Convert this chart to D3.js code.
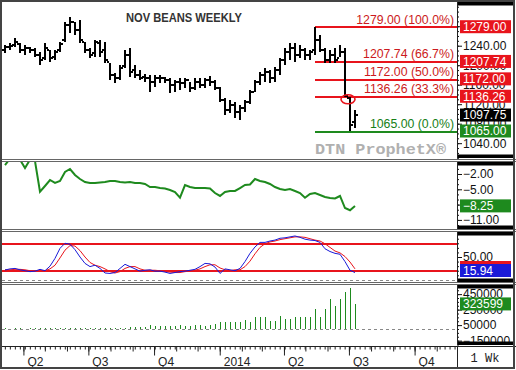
<!DOCTYPE html>
<html>
<head>
<meta charset="utf-8">
<script src="https://d3js.org/d3.v7.min.js"></script>
<style>
body { margin: 0; background: #fff; }
svg { display: block; font-family: Arial, "Liberation Sans", sans-serif; }
</style>
</head>
<body>
<svg id="chart" width="516" height="370"></svg>
<script>
// Nov soybeans, weekly bars (price, oscillator, stochastics, volume)
var firstWeek = new Date(2013, 2, 6);

var openP = [1231.25,1237.25,1241.5,1243.5,1231.25,1235.25,1231.25,1221,1214.75,1231.25,1216.75,1231.25,1251.75,1282.5,1288.5,1272.25,1247.5,1231.25,1225,1245.5,
  1231.25,1206.5,1180,1173.75,1198.5,1221,1190.25,1180,1175.75,1173.75,1165.5,1173.75,1173.75,1169.5,1159.5,1165.5,1163.5,1169.5,1153.25,1165.5,
  1159.5,1169.5,1165.5,1153.25,1128.5,1108,1118.25,1104,1112.25,1124.5,1145,1165.5,1180,1186,1173.75,1190.25,1210.75,1227,1235.25,1221,
  1231.25,1221,1231.25,1251.75,1231.25,1210.75,1221,1214.75,1227,1132.75,1083.5];
var highP = [1241.5,1245.5,1255.75,1245.5,1241.5,1237.25,1235.25,1227,1245.5,1231.25,1231.25,1247.5,1288.5,1299,1288.5,1292.75,1247.5,1235.25,1251.75,1251.75,
  1247.5,1204.5,1184,1200.5,1231.25,1235.25,1200.5,1190.25,1182,1180,1180,1180,1175.75,1173.75,1169.5,1173.75,1173.75,1165.5,1173.75,1173.75,
  1173.75,1177.75,1169.5,1155.25,1132.75,1128.5,1124.5,1118.25,1128.5,1149,1169.5,1186,1194.25,1190.25,1196.25,1214.75,1235.25,1245.5,1245.5,1241.5,
  1235.25,1231.25,1279,1262,1235.25,1231.25,1235.25,1241.5,1235.25,1134.75,1108];
var lowP = [1225,1231.25,1237.25,1225,1221,1225,1216.75,1200.5,1210.75,1206.5,1210.75,1227,1247.5,1266,1262,1245.5,1225,1214.75,1216.75,1216.75,
  1204.5,1169.5,1163.5,1169.5,1194.25,1175.75,1173.75,1169.5,1165.5,1145,1155.25,1163.5,1163.5,1143,1145,1149,1153.25,1145,1149,1153.25,
  1153.25,1157.25,1149,1124.5,1097.75,1102,1091.75,1087.5,1104,1120.5,1145,1159.5,1165.5,1163.5,1165.5,1180,1200.5,1210.75,1206.5,1214.75,
  1210.75,1210.75,1221,1227,1204.5,1204.5,1204.5,1216.75,1134.75,1065,1071.25];
var closeP = [1237.25,1239.5,1247.5,1231.25,1235.25,1231.25,1221,1210.75,1235.25,1214.75,1227,1243.5,1282.5,1288.5,1272.25,1251.75,1231.25,1221,1247.5,1227,
  1210.75,1180,1173.75,1194.25,1221,1186,1180,1173.75,1173.75,1165.5,1173.75,1173.75,1169.5,1159.5,1165.5,1163.5,1169.5,1153.25,1165.5,1159.5,
  1169.5,1165.5,1153.25,1128.5,1108,1118.25,1104,1112.25,1124.5,1145,1165.5,1180,1186,1173.75,1190.25,1210.75,1227,1235.25,1221,1231.25,
  1221,1227,1251.75,1231.25,1210.75,1221,1210.75,1227,1136.75,1077.25,1097.75];

var oscVals = [-0.24,1.0,1.5,0.8,-0.82,0.8,0.5,-5.47,-4.35,-3.18,-3.76,-3.37,-1.6,-1.02,-2.2,-2.98,-3.57,-3.76,-3.76,-3.67,
  -3.57,-3.37,-3.37,-3.57,-3.67,-3.57,-3.76,-3.76,-3.96,-4.55,-4.55,-4.75,-4.84,-5.14,-5.53,-6.65,-4.16,-4.55,-4.75,-4.75,
  -4.75,-4.84,-5.73,-6.31,-5.53,-5.33,-5.33,-4.75,-4.16,-4.06,-2.98,-3.37,-3.57,-3.96,-4.55,-4.94,-5.14,-4.94,-5.33,-5.73,
  -6.65,-5.92,-5.73,-6.12,-6.51,-6.71,-6.8,-6.31,-8.67,-9.1,-8.25];

var stochK = [21.6,24,25,22,20,18,19,23,20,30,47,69,80,78,66,50,36,29,32,25,
  15,14,16,25,34,29,24,19,21,22,19,19,17,14,16,18,19,21,23,29,
  36,35,28,14,24,22,20,25,40,58,72,82,82,85,87,91,92,94,96,93,
  89,87,86,82,68,62,58,56,40,21,15.94];
var stochD = [22,22,23,23,22,20,19,20,20,24,32,48,65,75,74,64,50,38,32,29,
  24,18,15,18,25,29,29,24,21,21,21,20,18,17,16,16,18,19,21,24,
  29,33,33,26,22,20,22,22,29,41,57,71,79,83,85,88,90,92,94,94,
  93,90,87,85,79,71,63,59,51,39,24];

var volume = [8000,6000,9000,7000,5000,8000,10000,7000,9000,11000,8000,12000,10000,9000,13000,11000,10000,14000,12000,15000,
  13000,16000,14000,18000,15000,20000,22000,25000,30000,50000,35000,40000,38000,45000,42000,48000,40000,35000,52000,50000,
  45000,55000,62000,95000,95000,95000,95000,95000,116000,95000,150000,150000,150000,108000,108000,168000,125000,125000,159000,159000,
  159000,159000,254000,159000,254000,385000,297000,385000,480000,525000,323599];

var fibLevels = [1279.00, 1207.74, 1172.00, 1136.26, 1065.00];
var fibPct = ["100.0%", "66.7%", "50.0%", "33.3%", "0.0%"];
var fibStart = 62;   // bar where the swing high sits
var stochBands = [80, 20];

var priceTicks = [1040, 1080, 1120, 1160, 1200, 1240, 1280];
var oscTicks = [-2, -5, -8, -11];
var stochTicks = [50];
var volTicks = [450000, 250000, 50000, -150000];

var weeks = openP.map(function (d, i) { return d3.timeDay.offset(firstWeek, 7 * i); });

var RED = "#e8141c", GREEN = "#1e8a1e", BLUE = "#1a1ad8";
var plotL = 2, plotR = 457, stripR = 514;
var panels = [
  {name: "price", top: 2, bottom: 158},
  {name: "osc", top: 162, bottom: 229},
  {name: "stoch", top: 232, bottom: 282},
  {name: "vol", top: 285, bottom: 345}
];

var svg = d3.select("#chart");

var x = d3.scaleTime()
  .domain([new Date(2013, 2, 2), new Date(2014, 10, 28)])
  .range([plotL, 456]);

var yPrice = d3.scaleLinear().domain([1009.6, 1329.7]).range([158, 2]);
var yOsc = d3.scaleLinear().domain([-12.78, 0.35]).range([229, 162]);
var yStoch = d3.scaleLinear().domain([-4.7, 104.7]).range([282, 232]);
var yVol = d3.scaleLinear().domain([-206452, 567742]).range([345, 285]);

// clip paths
var defs = svg.append("defs");
panels.forEach(function (p) {
  defs.append("clipPath").attr("id", "clip-" + p.name)
    .append("rect").attr("x", plotL).attr("y", p.top)
    .attr("width", plotR - plotL).attr("height", p.bottom - p.top);
});

function bx(i) { return Math.round(x(weeks[i])); }

// horizontal rule drawn as a rect so it stays sharp
function hRule(g, x1, x2, y, color, h) {
  h = h || 1;
  return g.append("rect").attr("x", x1).attr("y", Math.round(y - h / 2 + 0.5)).attr("width", x2 - x1).attr("height", h)
    .attr("fill", color).attr("shape-rendering", "crispEdges");
}

// ---------- price panel ----------
var gp = svg.append("g").attr("clip-path", "url(#clip-price)");

gp.append("text").attr("x", 126).attr("y", 21.5)
  .attr("font-size", 12).attr("font-weight", "bold").attr("fill", "#333")
  .attr("textLength", 116).attr("lengthAdjust", "spacingAndGlyphs")
  .text("NOV BEANS WEEKLY");

gp.append("text").attr("x", 315).attr("y", 154)
  .attr("font-family", "'Liberation Mono', 'DejaVu Sans Mono', monospace")
  .attr("font-size", 15).attr("font-weight", "bold").attr("fill", "#b0b0b0")
  .attr("textLength", 131).attr("lengthAdjust", "spacingAndGlyphs")
  .text("DTN ProphetX\u00AE");

// fibonacci retracement lines
var fx0 = bx(fibStart);
fibLevels.forEach(function (d, i) {
  hRule(gp, fx0, plotR, yPrice(d), i === fibLevels.length - 1 ? GREEN : RED, 1.5);
});

gp.selectAll(".fibtxt").data(fibLevels).enter().append("text")
  .attr("x", 454)
  .attr("y", function (d) { return Math.round(yPrice(d)) - 3; })
  .attr("text-anchor", "end").attr("font-size", 12.3)
  .attr("fill", function (d, i) { return i === fibLevels.length - 1 ? "#168016" : "#cc1a20"; })
  .text(function (d, i) { return d.toFixed(2) + " (" + fibPct[i] + ")"; });

// OHLC bars
var bars = gp.selectAll(".bar").data(weeks).enter().append("g")
  .attr("shape-rendering", "crispEdges").attr("fill", "#000");
bars.append("rect")
  .attr("x", function (d, i) { return bx(i) - 1; })
  .attr("y", function (d, i) { return Math.round(yPrice(highP[i])); })
  .attr("width", 2)
  .attr("height", function (d, i) { return Math.max(2, Math.round(yPrice(lowP[i])) - Math.round(yPrice(highP[i]))); });
bars.append("rect")
  .attr("x", function (d, i) { return bx(i) - 3; })
  .attr("y", function (d, i) { return Math.round(yPrice(openP[i])) - 1; })
  .attr("width", 2).attr("height", 2);
bars.append("rect")
  .attr("x", function (d, i) { return bx(i) + 1; })
  .attr("y", function (d, i) { return Math.round(yPrice(closeP[i])) - 1; })
  .attr("width", 2).attr("height", 2);

// highlight of the gap after the break
gp.append("ellipse")
  .attr("cx", (bx(68) + bx(69)) / 2 + 0.5).attr("cy", yPrice(1130))
  .attr("rx", 7).attr("ry", 4.5)
  .attr("fill", "none").attr("stroke", RED).attr("stroke-width", 1.6);

// ---------- oscillator panel ----------
var go = svg.append("g").attr("clip-path", "url(#clip-osc)");
go.append("path").datum(oscVals)
  .attr("fill", "none").attr("stroke", GREEN).attr("stroke-width", 2)
  .attr("d", d3.line().x(function (d, i) { return bx(i); }).y(function (d) { return yOsc(d); }));

// ---------- stochastics panel ----------
var gs = svg.append("g").attr("clip-path", "url(#clip-stoch)");
stochBands.forEach(function (v) { hRule(gs, plotL, plotR, yStoch(v), RED, 1.5); });
gs.append("line").attr("x1", plotL).attr("x2", plotR)
  .attr("y1", Math.round(yStoch(0)) + 0.5).attr("y2", Math.round(yStoch(0)) + 0.5)
  .style("stroke", "#888").attr("stroke-dasharray", "3,3");
var sLine = d3.line().x(function (d, i) { return bx(i); }).y(function (d) { return yStoch(d); });
gs.append("path").datum(stochD).attr("fill", "none").style("stroke", RED).attr("stroke-width", 1).attr("d", sLine);
gs.append("path").datum(stochK).attr("fill", "none").style("stroke", BLUE).attr("stroke-width", 1).attr("d", sLine);

// ---------- volume panel ----------
var gv = svg.append("g").attr("clip-path", "url(#clip-vol)");
gv.append("line").attr("x1", plotL).attr("x2", plotR)
  .attr("y1", Math.round(yVol(0)) + 0.5).attr("y2", Math.round(yVol(0)) + 0.5)
  .style("stroke", "#888").attr("stroke-dasharray", "3,3");
gv.selectAll(".vb").data(volume).enter().append("rect")
  .attr("shape-rendering", "crispEdges")
  .attr("x", function (d, i) { return bx(i); })
  .attr("y", function (d) { return Math.round(yVol(d)); })
  .attr("width", 1)
  .attr("height", function (d) { return Math.round(yVol(0)) - Math.round(yVol(d)); })
  .attr("fill", GREEN);

// ---------- right axis strips ----------
function strip(p, scale, major, minorStep, fmt) {
  var g = svg.append("g");
  var d0 = scale.domain();
  var minors = d3.range(Math.ceil(d0[0] / minorStep) * minorStep, d0[1], minorStep);
  var ax = g.append("g").attr("transform", "translate(" + plotR + ",0)")
    .call(d3.axisRight(scale).tickValues(minors).tickSize(2).tickFormat(""));
  ax.select(".domain").remove();
  var ax2 = g.append("g").attr("transform", "translate(" + plotR + ",0)")
    .call(d3.axisRight(scale).tickValues(major).tickSize(5).tickPadding(1).tickFormat(fmt));
  ax2.select(".domain").remove();
  ax2.selectAll("text").attr("font-size", 12).attr("font-family", "Arial, 'Liberation Sans', sans-serif")
    .attr("fill", "#111");
  g.selectAll(".tick line").attr("stroke", "#111");
  return g;
}

function valueBox(y, label, color) {
  var g = svg.append("g");
  g.append("rect").attr("x", 460).attr("y", y - 6.5).attr("width", 51).attr("height", 13)
    .attr("fill", color);
  g.append("text").attr("x", 463).attr("y", y).attr("dy", "0.36em")
    .attr("font-size", 12).attr("fill", "#fff").text(label);
}

var f2 = d3.format(".2f");
strip(panels[0], yPrice, priceTicks, 10, f2);
fibLevels.forEach(function (d, i) {
  if (i < fibLevels.length - 1) valueBox(yPrice(d), f2(d), RED);
});
valueBox(yPrice(closeP[closeP.length - 1]), f2(closeP[closeP.length - 1]), "#000");
valueBox(yPrice(fibLevels[fibLevels.length - 1]), f2(fibLevels[fibLevels.length - 1]), GREEN);

strip(panels[1], yOsc, oscTicks, 1, f2);
valueBox(yOsc(oscVals[oscVals.length - 1]), f2(oscVals[oscVals.length - 1]), GREEN);

strip(panels[2], yStoch, stochTicks, 10, f2);
var kBox = Math.min(yStoch(stochK[stochK.length - 1]), 282 - 5 - 6.5);
valueBox(kBox - 3, "", RED);
valueBox(kBox, f2(stochK[stochK.length - 1]), BLUE);

strip(panels[3], yVol, volTicks, 50000, d3.format("d"));
valueBox(yVol(volume[volume.length - 1]), String(volume[volume.length - 1]), GREEN);

// frames: black bands in the strip, separators between panels
panels.forEach(function (p) {
  svg.append("rect").attr("x", plotR).attr("y", p.top).attr("width", stripR - plotR).attr("height", 3.5).attr("fill", "#000");
  svg.append("rect").attr("x", plotR).attr("y", p.bottom - 3.5).attr("width", stripR - plotR).attr("height", 3.5).attr("fill", "#000");
  svg.append("rect").attr("x", plotR).attr("y", p.top).attr("width", 1).attr("height", p.bottom - p.top)
    .attr("fill", "#222");
});
[159, 161, 229, 231, 282, 284].forEach(function (y) {
  hRule(svg, 0, 516, y, "#666");
});

// ---------- time axis ----------
var ga = svg.append("g");
var axisTop = 346.5;
hRule(ga, 0, 516, 346, "#222");
var dom = x.domain();
var weekTicks = d3.range(-1, 95).map(function (i) { return d3.timeDay.offset(firstWeek, 7 * i); })
  .filter(function (d) { return d >= dom[0] && d <= dom[1]; });
var monthTicks = d3.timeMonth.range(dom[0], dom[1]);
var quarterTicks = d3.timeMonth.every(3).range(dom[0], dom[1]);

function tickRow(vals, len) {
  var a = ga.append("g").attr("transform", "translate(0," + axisTop + ")")
    .call(d3.axisBottom(x).tickValues(vals).tickSize(len).tickFormat(""));
  a.select(".domain").remove();
  a.selectAll(".tick line").attr("stroke", "#222");
}
tickRow(weekTicks, 3);
tickRow(monthTicks, 5);
tickRow(quarterTicks, 9);

ga.selectAll(".ql").data(quarterTicks).enter().append("text")
  .attr("x", function (d) { return x(d) + 4; }).attr("y", 366)
  .attr("font-size", 12).attr("fill", "#222")
  .text(function (d) { return d.getMonth() === 0 ? d3.timeFormat("%Y")(d) : "Q" + (d.getMonth() / 3 + 1); });

ga.append("rect").attr("x", plotR + 0.5).attr("y", axisTop).attr("width", stripR - plotR).attr("height", 368 - axisTop)
  .attr("fill", "#fff").attr("stroke", "#222");
ga.append("text").attr("x", 485).attr("y", 362).attr("text-anchor", "middle")
  .attr("font-family", "'Liberation Mono', 'DejaVu Sans Mono', monospace").attr("font-size", 12)
  .attr("fill", "#222").text("1 Wk");

// outer frame
svg.append("rect").attr("x", 1).attr("y", 1).attr("width", 513).attr("height", 367)
  .attr("fill", "none").attr("stroke", "#444").attr("stroke-width", 2);
</script>
</body>
</html>
